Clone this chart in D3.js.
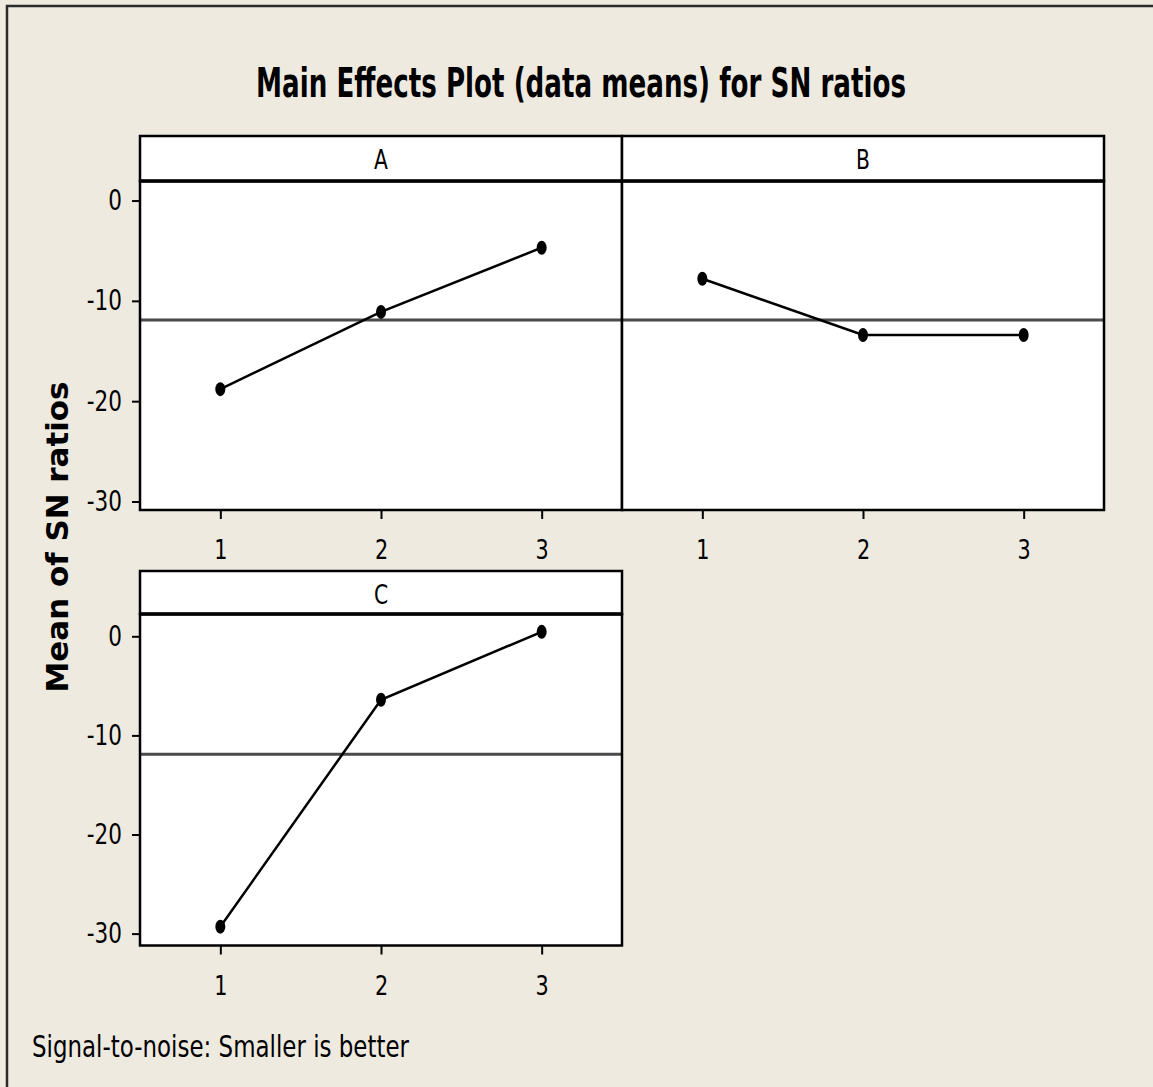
<!DOCTYPE html>
<html>
<head>
<meta charset="utf-8">
<script src="https://cdn.jsdelivr.net/npm/d3@7"></script>
<style>
  body { margin: 0; background: #eeeae0; }
  svg { display: block; }
</style>
</head>
<body>
<div id="chart"></div>
<script>
// data
var levels = [1, 2, 3];
var factors = ["A", "B", "C"];
var meanA = [-18.8, -11.1, -4.7];
var meanB = [-7.8, -13.4, -13.4];
var meanC = [-29.3, -6.4, 0.45];
var overallMean = -11.9;
var yTicks = [0, -10, -20, -30];

var svgWidth = 1153;
var svgHeight = 1087;

var svg = d3.select("#chart")
    .append("svg")
    .attr("width", svgWidth)
    .attr("height", svgHeight);

svg.append("rect")
    .attr("width", svgWidth)
    .attr("height", svgHeight)
    .attr("fill", "#eeeae0");

// outer frame (runs off the right and bottom edges)
svg.append("rect")
    .attr("x", 7)
    .attr("y", 6)
    .attr("width", 1200)
    .attr("height", 1200)
    .attr("fill", "none")
    .attr("stroke", "#2a2a2a")
    .attr("stroke-width", 2.5);

// squeeze text horizontally, the original font is narrow
function squeeze(sel, k) {
    sel.each(function () {
        var w = this.getComputedTextLength();
        d3.select(this)
            .attr("textLength", w * k)
            .attr("lengthAdjust", "spacingAndGlyphs");
    });
}

var font = "'DejaVu Sans', Verdana, sans-serif";

// title
svg.append("text")
    .attr("x", 581)
    .attr("y", 97)
    .attr("text-anchor", "middle")
    .attr("font-family", font)
    .attr("font-weight", "bold")
    .attr("font-size", "41px")
    .attr("textLength", 650)
    .attr("lengthAdjust", "spacingAndGlyphs")
    .text("Main Effects Plot (data means) for SN ratios");

// y axis title
svg.append("text")
    .attr("transform", "translate(68, 537) rotate(-90)")
    .attr("text-anchor", "middle")
    .attr("font-family", font)
    .attr("font-weight", "bold")
    .attr("font-size", "30px")
    .attr("textLength", 311)
    .attr("lengthAdjust", "spacingAndGlyphs")
    .text("Mean of SN ratios");

// footer
svg.append("text")
    .attr("x", 32)
    .attr("y", 1057)
    .attr("font-family", font)
    .attr("font-size", "30px")
    .attr("textLength", 377)
    .attr("lengthAdjust", "spacingAndGlyphs")
    .text("Signal-to-noise: Smaller is better");

var panels = [
    { name: factors[0], values: meanA, x0: 140, x1: 622, stripTop: 136, top: 181, bottom: 510, yDomain: [-30.85, 1.95], yAxis: true },
    { name: factors[1], values: meanB, x0: 622, x1: 1104, stripTop: 136, top: 181, bottom: 510, yDomain: [-30.85, 1.95], yAxis: false },
    { name: factors[2], values: meanC, x0: 140, x1: 622, stripTop: 571, top: 614, bottom: 945.5, yDomain: [-31.2, 2.25], yAxis: true }
];

panels.forEach(function (p) {
    var xScale = d3.scaleLinear()
        .domain([0.5, 3.5])
        .range([p.x0, p.x1]);
    var yScale = d3.scaleLinear()
        .domain(p.yDomain)
        .range([p.bottom, p.top]);

    var g = svg.append("g");

    // plot area
    g.append("rect")
        .attr("x", p.x0)
        .attr("y", p.top)
        .attr("width", p.x1 - p.x0)
        .attr("height", p.bottom - p.top)
        .attr("fill", "white");

    // mean reference line
    g.append("line")
        .attr("x1", xScale(0.5))
        .attr("x2", xScale(3.5))
        .attr("y1", yScale(overallMean))
        .attr("y2", yScale(overallMean))
        .attr("stroke", "#4a4a4a")
        .attr("stroke-width", 3);

    // effect line
    var pts = levels.map(function (lv, i) { return { level: lv, value: p.values[i] }; });
    var line = d3.line()
        .x(d => xScale(d.level))
        .y(d => yScale(d.value));
    g.append("path")
        .datum(pts)
        .attr("d", line)
        .attr("fill", "none")
        .attr("stroke", "black")
        .attr("stroke-width", 2.5);

    g.selectAll("ellipse")
        .data(pts)
        .enter()
        .append("ellipse")
        .attr("cx", d => xScale(d.level))
        .attr("cy", d => yScale(d.value))
        .attr("rx", 5)
        .attr("ry", 7)
        .attr("fill", "black");

    // frame
    g.append("rect")
        .attr("x", p.x0)
        .attr("y", p.top)
        .attr("width", p.x1 - p.x0)
        .attr("height", p.bottom - p.top)
        .attr("fill", "none")
        .attr("stroke", "black")
        .attr("stroke-width", 2.5);

    // strip with factor name
    g.append("rect")
        .attr("x", p.x0)
        .attr("y", p.stripTop)
        .attr("width", p.x1 - p.x0)
        .attr("height", p.top - p.stripTop)
        .attr("fill", "white")
        .attr("stroke", "black")
        .attr("stroke-width", 2.5);
    g.append("line")
        .attr("x1", p.x0)
        .attr("x2", p.x1)
        .attr("y1", p.top)
        .attr("y2", p.top)
        .attr("stroke", "black")
        .attr("stroke-width", 3.5);

    var strip = g.append("text")
        .attr("x", (p.x0 + p.x1) / 2)
        .attr("y", p.stripTop + 33)
        .attr("text-anchor", "middle")
        .attr("font-family", font)
        .attr("font-size", "26px")
        .text(p.name);
    squeeze(strip, 0.78);

    // x axis
    var xAxis = g.append("g")
        .attr("transform", `translate(0, ${p.bottom})`)
        .call(d3.axisBottom(xScale).tickValues(levels).tickSize(9).tickFormat(d => String(d)));
    xAxis.select(".domain").remove();
    xAxis.selectAll("line").attr("stroke", "black").attr("stroke-width", 2);
    xAxis.selectAll("text")
        .attr("dy", null)
        .attr("y", 49)
        .attr("fill", "black")
        .attr("font-family", font)
        .attr("font-size", "27px");
    squeeze(xAxis.selectAll("text"), 0.77);

    // y axis
    if (p.yAxis) {
        var yAxis = g.append("g")
            .attr("transform", `translate(${p.x0}, 0)`)
            .call(d3.axisLeft(yScale).tickValues(yTicks).tickSize(8).tickPadding(10).tickFormat(d => String(d)));
        yAxis.select(".domain").remove();
        yAxis.selectAll("line").attr("stroke", "black").attr("stroke-width", 2);
        yAxis.selectAll("text")
            .attr("fill", "black")
            .attr("font-family", font)
            .attr("font-size", "28px");
        squeeze(yAxis.selectAll("text"), 0.77);
    }
});
</script>
</body>
</html>
